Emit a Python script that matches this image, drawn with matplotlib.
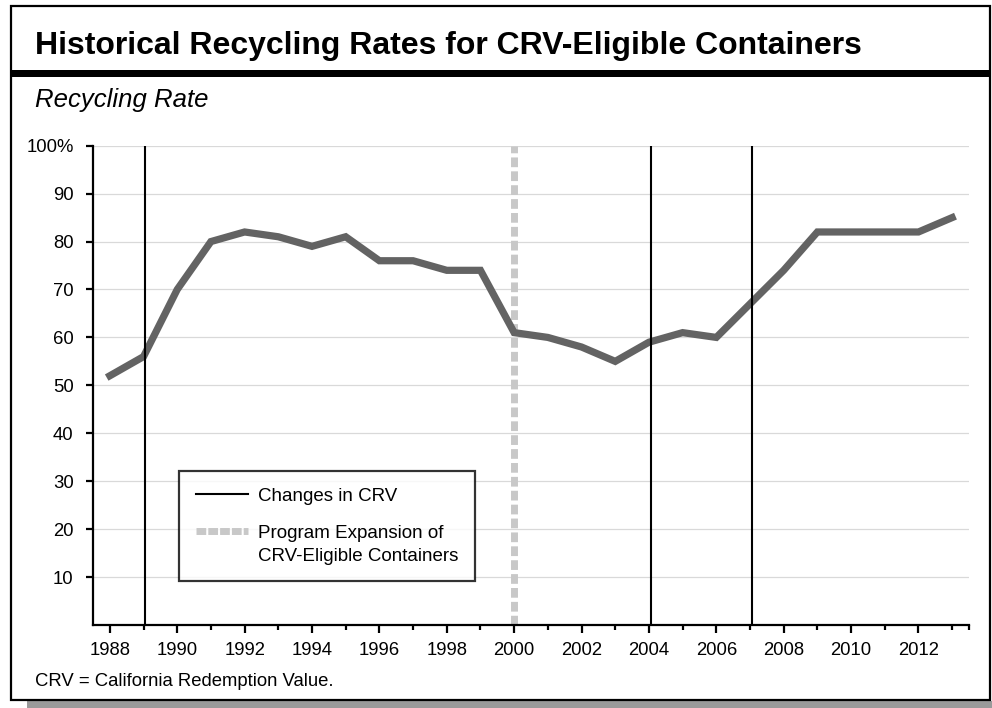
import matplotlib
matplotlib.use("Agg")
import matplotlib.pyplot as plt
from matplotlib.patches import Rectangle
from matplotlib.lines import Line2D
from matplotlib.legend_handler import HandlerLine2D
from matplotlib.ticker import MultipleLocator, FixedLocator

plt.rcParams['font.family'] = ['Liberation Sans', 'DejaVu Sans']

# -------------------------------
# data
# -------------------------------
years = list(range(1988, 2014))
rates = [52, 56, 70, 80, 82, 81, 79, 81, 76, 76, 74, 74, 61,
         60, 58, 55, 59, 61, 60, 67, 74, 82, 82, 82, 82, 85]
crv_changes = [1989, 2004, 2007]
expansion_year = [2000]
y_ticks = [10, 20, 30, 40, 50, 60, 70, 80, 90, 100]
y_labels = ['10', '20', '30', '40', '50', '60', '70', '80', '90', '100%']

W, H = 992, 708
fig = plt.figure(figsize=(W / 100, H / 100), dpi=100)

def px(x0, y0, x1, y1):
    # pixel box (top-left origin) -> figure fraction [l, b, w, h]
    return [x0 / W, 1 - y1 / H, (x1 - x0) / W, (y1 - y0) / H]

# handle drawn next to the first line of a two-line label
class RaisedLine(HandlerLine2D):
    def create_artists(self, legend, orig_handle, xdescent, ydescent,
                       width, height, fontsize, trans):
        arts = super().create_artists(legend, orig_handle, xdescent, ydescent,
                                      width, height, fontsize, trans)
        for a in arts:
            a.set_ydata([y + 0.7 * fontsize for y in a.get_ydata()])
        return arts

# frame, shadow and title bar
l, b, w, h = px(27, 701, 992, 708)
fig.patches.append(Rectangle((l, b), w, h, transform=fig.transFigure,
                             facecolor='#9a9a9a', edgecolor='none', zorder=0))
l, b, w, h = px(11, 6, 990, 700)
fig.patches.append(Rectangle((l, b), w, h, transform=fig.transFigure,
                             facecolor='white', edgecolor='black', lw=1.6, zorder=1))
l, b, w, h = px(11, 70, 990, 77)
fig.patches.append(Rectangle((l, b), w, h, transform=fig.transFigure,
                             facecolor='black', edgecolor='none', zorder=2))

fig.text(35 / W, 1 - 46 / H, 'Historical Recycling Rates for CRV-Eligible Containers',
         fontsize=23, fontweight='bold', va='center', ha='left', zorder=3)
fig.text(35 / W, 1 - 100 / H, 'Recycling Rate', fontsize=18.5, style='italic',
         va='center', ha='left', zorder=3)
fig.text(35 / W, 1 - 681 / H, 'CRV = California Redemption Value.', fontsize=13.3,
         va='center', ha='left', zorder=3)

# -------------------------------
# plot area
# -------------------------------
ax = fig.add_axes(px(93, 145.7, 969, 625))
ax.set_zorder(5)
ax.set_facecolor('none')
ax.set_xlim(1987.5, 2013.5)
ax.set_ylim(0, 100)

for yv in y_ticks:
    ax.axhline(yv, color='#d9d9d9', lw=0.9, zorder=1)

ax.plot(years, rates, color='#636363', lw=5.2, solid_joinstyle='miter', zorder=3)

for yr in crv_changes:
    ax.axvline(yr + 0.05, color='black', lw=1.5, zorder=4)
for yr in expansion_year:
    ax.axvline(yr, color='#c8c8c8', lw=5, linestyle=(0, (1.4, 0.6)), zorder=2)

ax.spines['top'].set_visible(False)
ax.spines['right'].set_visible(False)
ax.spines['left'].set_linewidth(1.6)
ax.spines['bottom'].set_linewidth(1.6)

ax.set_yticks(y_ticks)
ax.set_yticklabels(y_labels)
ax.xaxis.set_major_locator(MultipleLocator(2))
ax.xaxis.set_minor_locator(FixedLocator(list(range(1989, 2014, 2)) + [2013.5]))
ax.tick_params(axis='both', which='major', direction='out', length=6, width=1.6,
               labelsize=13.3, pad=6)
ax.tick_params(axis='x', which='minor', direction='out', length=3.5, width=1.6)
ax.tick_params(axis='y', which='major', length=5, pad=9)

h_crv = Line2D([], [], color='black', lw=1.5)
h_exp = Line2D([], [], color='#c8c8c8', lw=5, linestyle=(0, (1.4, 0.3)))
leg = ax.legend([h_crv, h_exp], ['Changes in CRV', 'Program Expansion of\nCRV-Eligible Containers'],
                handler_map={h_exp: RaisedLine()},
                loc='upper left', bbox_to_anchor=((179 - 93) / (969 - 93), (625 - 471) / (625 - 145.7)),
                frameon=True, fancybox=False, fontsize=13.5, handlelength=2.8,
                borderpad=0.9, labelspacing=1.05, borderaxespad=0, handletextpad=0.5)
for t in leg.get_texts():
    t.set_linespacing(1.45)
leg.get_frame().set_edgecolor('black')
leg.get_frame().set_linewidth(1.6)
leg.set_zorder(6)

fig.savefig('out.png', dpi=100)
